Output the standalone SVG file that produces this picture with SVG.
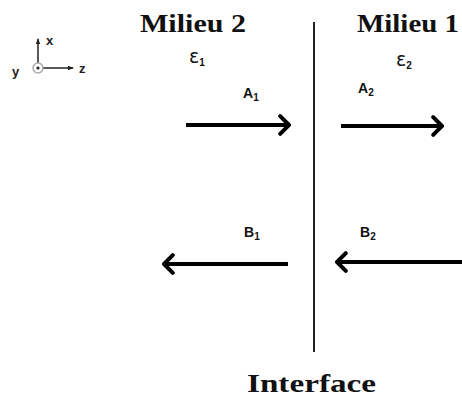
<svg xmlns="http://www.w3.org/2000/svg" width="462" height="398" viewBox="0 0 462 398">
<style>
.title{font-family:"Liberation Serif",serif;font-weight:bold;font-size:26px;fill:#111}
.lbl{font-family:"Liberation Sans",sans-serif;font-weight:bold;font-size:14px;fill:#111}
.sub{font-family:"Liberation Sans",sans-serif;font-weight:bold;font-size:10px;fill:#111}
.eps{font-family:"DejaVu Sans",sans-serif;font-size:19px;fill:#111}
.arrow{stroke:#000;stroke-width:4;fill:none}
.ax{font-family:"Liberation Sans",sans-serif;font-weight:bold;font-size:13px;fill:#222}
</style>
<defs>
<marker id="head" viewBox="0 0 6 10" refX="5" refY="5" markerWidth="3.3" markerHeight="5.5" orient="auto" markerUnits="strokeWidth">
<polyline points="1,1 5,5 1,9" fill="none" stroke="#000" stroke-width="1.8" stroke-linecap="round" stroke-linejoin="round"/>
</marker>
<marker id="axhead" viewBox="0 0 6 6" refX="5" refY="3" markerWidth="4" markerHeight="4" orient="auto" markerUnits="strokeWidth">
<path d="M0,0.8 L6,3 L0,5.2 Z" fill="#222"/>
</marker>
</defs>
<rect width="462" height="398" fill="#fff"/>
<g id="axes">
<line x1="38" y1="63" x2="38" y2="39" stroke="#222" stroke-width="1.5" marker-end="url(#axhead)"/>
<line x1="43" y1="68" x2="73" y2="68" stroke="#222" stroke-width="1.5" marker-end="url(#axhead)"/>
<circle cx="38" cy="68" r="5" fill="#fff" stroke="#aaa" stroke-width="1.5"/>
<circle cx="38" cy="68" r="1.6" fill="#222"/>
<text class="ax" x="46" y="45">x</text>
<text class="ax" x="79" y="73">z</text>
<text class="ax" x="12" y="76">y</text>
</g>
<g id="interface">
<line x1="314" y1="22" x2="314" y2="352" stroke="#222" stroke-width="2"/>
<text class="title" x="247" y="392" textLength="129" lengthAdjust="spacingAndGlyphs" font-size="26">Interface</text>
</g>
<g id="milieu2">
<text class="title" x="140" y="32" textLength="106" lengthAdjust="spacingAndGlyphs">Milieu 2</text>
<text class="eps" x="189" y="63">ε<tspan class="sub" font-size="11" dy="3">1</tspan></text>
</g>
<g id="milieu1">
<text class="title" x="357" y="32" textLength="102" lengthAdjust="spacingAndGlyphs">Milieu 1</text>
<text class="eps" x="396" y="66">ε<tspan class="sub" font-size="11" dy="3">2</tspan></text>
</g>
<g id="connectors">
<line class="arrow" x1="186" y1="125" x2="289" y2="125" marker-end="url(#head)"/>
<line class="arrow" x1="341" y1="126" x2="442" y2="126" marker-end="url(#head)"/>
<line class="arrow" x1="288" y1="264" x2="164" y2="264" marker-end="url(#head)"/>
<line class="arrow" x1="462" y1="262" x2="337" y2="262" marker-end="url(#head)"/>
</g>
<g id="labels">
<text class="lbl" x="243" y="98">A<tspan class="sub" dy="3">1</tspan></text>
<text class="lbl" x="358" y="93">A<tspan class="sub" dy="3">2</tspan></text>
<text class="lbl" x="244" y="237">B<tspan class="sub" dy="3">1</tspan></text>
<text class="lbl" x="360" y="237">B<tspan class="sub" dy="3">2</tspan></text>
</g>
</svg>
